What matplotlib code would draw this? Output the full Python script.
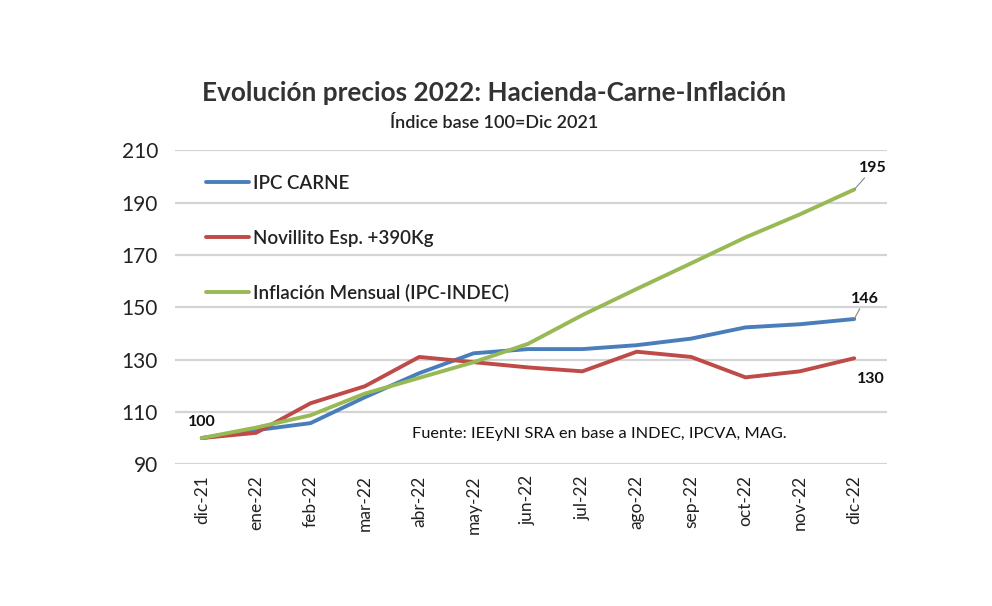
import matplotlib.pyplot as plt
import numpy as np

plt.rcParams['font.family'] = ['Lato', 'DejaVu Sans']

meses = ['dic-21', 'ene-22', 'feb-22', 'mar-22', 'abr-22', 'may-22', 'jun-22',
         'jul-22', 'ago-22', 'sep-22', 'oct-22', 'nov-22', 'dic-22']
ipc_carne = [100, 103, 105.7, 115.6, 124.8, 132.4, 134, 134, 135.5, 138, 142.3, 143.5, 145.5]
novillito = [100, 102, 113.3, 119.8, 131, 129, 127, 125.5, 133, 131, 123.2, 125.5, 130.5]
inflacion = [100, 104, 108.7, 117, 123, 129, 136, 147, 157, 166.8, 176.7, 185.5, 195]

fig = plt.figure(figsize=(9.92, 6.06), dpi=100)
ax = fig.add_axes([0.176, 0.234, 0.718, 0.518])

ind = np.arange(len(meses))
ax.plot(ind, ipc_carne, color='#4A7EBB', lw=2.8, label='IPC CARNE', solid_capstyle='round')
ax.plot(ind, novillito, color='#BE4B48', lw=2.8, label='Novillito Esp. +390Kg', solid_capstyle='round')
ax.plot(ind, inflacion, color='#98B954', lw=2.8, label='Inflación Mensual (IPC-INDEC)', solid_capstyle='round')

ax.set_xlim(-0.5, 12.6)
ax.set_ylim(90, 210)
ax.set_yticks(range(90, 211, 20))
ax.set_xticks(ind)
ax.set_xticklabels(meses, rotation=90, fontsize=12.5, color='#222222')
ax.tick_params(axis='y', labelsize=15, labelcolor='#222222', length=0, pad=12)
ax.tick_params(axis='x', length=0, pad=8)
ax.grid(axis='y', color='#D4D4D4', lw=1.6)
ax.set_axisbelow(True)
for s in ax.spines.values():
    s.set_visible(False)

leg = ax.legend(loc='upper left', bbox_to_anchor=(0.02, 0.975), frameon=False,
                fontsize=13.5, handlelength=2.3, handletextpad=0.2, labelspacing=2.0)
for t in leg.get_texts():
    t.set_fontweight('semibold')
    t.set_color('#222222')

# etiquetas de datos
ax.annotate('100', (0, ipc_carne[0]), xytext=(0.0, 103.5), fontsize=11.5,
            fontweight='bold', ha='center', va='bottom', color='#111111')
ax.annotate('195', (12, inflacion[-1]), xytext=(12.35, 200.5), fontsize=11.5,
            fontweight='bold', ha='center', va='bottom', color='#111111',
            arrowprops=dict(arrowstyle='-', color='#888888', lw=0.8, shrinkA=0, shrinkB=0))
ax.annotate('146', (12, ipc_carne[-1]), xytext=(12.2, 150.5), fontsize=11.5,
            fontweight='bold', ha='center', va='bottom', color='#111111',
            arrowprops=dict(arrowstyle='-', color='#888888', lw=0.8, shrinkA=0, shrinkB=0))
ax.text(12.3, 120, '130', fontsize=11.5, fontweight='bold', ha='center', va='bottom', color='#111111')

ax.text(0.334, 0.095, 'Fuente: IEEyNI SRA en base a INDEC, IPCVA, MAG.', transform=ax.transAxes,
        fontsize=11.8, color='#111111', va='center')

fig.text(0.498, 0.846, 'Evolución precios 2022: Hacienda-Carne-Inflación', ha='center',
         va='center', fontsize=18.8, fontweight='bold', color='#333333')
fig.text(0.498, 0.797, 'Índice base 100=Dic 2021', ha='center', va='center',
         fontsize=13, fontweight='semibold', color='#222222')

plt.savefig('out.png', dpi=100)
